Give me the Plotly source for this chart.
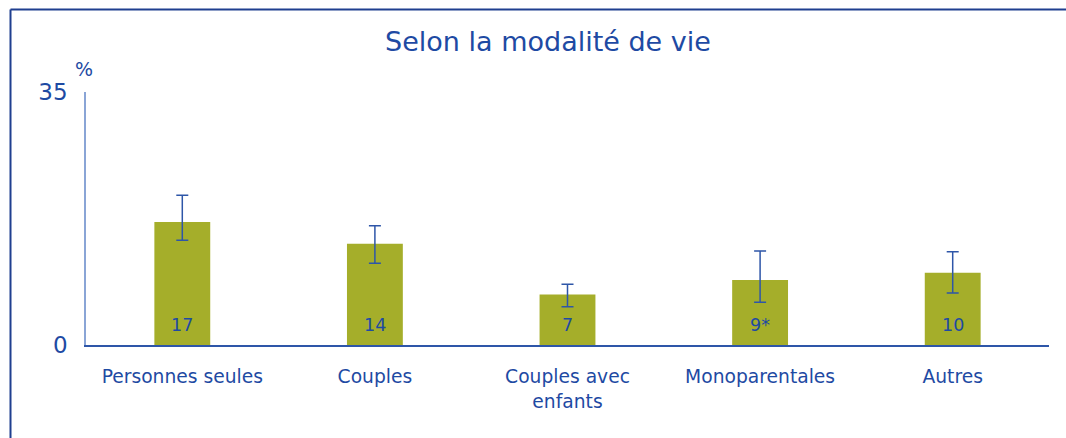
import plotly.graph_objects as go

# Categories, values shown in the bars, and confidence bounds
categories = ["Personnes seules", "Couples", "Couples avec<br>enfants", "Monoparentales", "Autres"]
values = [17, 14, 7, 9, 10]
value_labels = ["17", "14", "7", "9*", "10"]
ci_low = [14.5, 11.3, 5.3, 5.9, 7.2]
ci_high = [20.7, 16.5, 8.4, 13.0, 12.9]

TEXT = "#1e4aa3"
BAR = "#a5ae2a"
FONT = "DejaVu Sans"

err_plus = [h - v for h, v in zip(ci_high, values)]
err_minus = [v - l for v, l in zip(values, ci_low)]
xpos = list(range(len(categories)))

fig = go.Figure()
fig.add_trace(go.Bar(
    x=xpos,
    y=values,
    width=0.29,
    marker=dict(color=BAR, line=dict(width=0)),
    error_y=dict(
        type="data", symmetric=False,
        array=err_plus, arrayminus=err_minus,
        color="#2e56a8", thickness=1.5, width=6,
    ),
    hoverinfo="skip",
))

# value labels near the foot of each bar
annotations = [
    dict(x=x, y=0, xref="x", yref="y", text=t, showarrow=False,
         yanchor="middle", yshift=20,
         font=dict(family=FONT, size=17.5, color=TEXT))
    for x, t in zip(xpos, value_labels)
]
annotations.append(dict(
    text="%", xref="paper", yref="paper",
    x=-2 / 963, y=1 + 23 / 253, xanchor="center", yanchor="middle",
    showarrow=False, font=dict(family=FONT, size=19, color=TEXT),
))

fig.update_layout(
    width=1066, height=438,
    margin=dict(l=86, r=17, t=92, b=93),
    paper_bgcolor="white", plot_bgcolor="white",
    showlegend=False,
    title=dict(
        text="Selon la modalité de vie",
        x=548 / 1066, xref="container", xanchor="center",
        y=1 - 42 / 438, yref="container", yanchor="middle",
        font=dict(family=FONT, size=27, color=TEXT),
    ),
    xaxis=dict(
        range=[-0.5, 4.5],
        tickmode="array",
        tickvals=xpos,
        ticktext=categories,
        tickfont=dict(family=FONT, size=18.7, color=TEXT),
        ticks="outside", ticklen=14, tickcolor="rgba(0,0,0,0)",
        showline=True, linecolor="#2e56a8", linewidth=1.5,
        showgrid=False, zeroline=False, fixedrange=True,
    ),
    yaxis=dict(
        range=[0, 35],
        tickmode="array", tickvals=[0, 35], ticktext=["0", "35"],
        tickfont=dict(family=FONT, size=23, color=TEXT),
        ticks="outside", ticklen=12, tickcolor="rgba(0,0,0,0)",
        showline=True, linecolor="#8aa5d6", linewidth=1.5,
        showgrid=False, zeroline=False, fixedrange=True,
    ),
    annotations=annotations,
    shapes=[
        # outer frame: top and left edges
        dict(type="line", xref="paper", yref="paper",
             x0=(10.5 - 86) / 963, x1=1.1, y0=(345 - 9.5) / 253, y1=(345 - 9.5) / 253,
             line=dict(color="#1f3f8f", width=2)),
        dict(type="line", xref="paper", yref="paper",
             x0=(10.5 - 86) / 963, x1=(10.5 - 86) / 963, y0=(345 - 9.5) / 253, y1=-0.5,
             line=dict(color="#1f3f8f", width=2)),
    ],
)

fig.write_html("out.html")
